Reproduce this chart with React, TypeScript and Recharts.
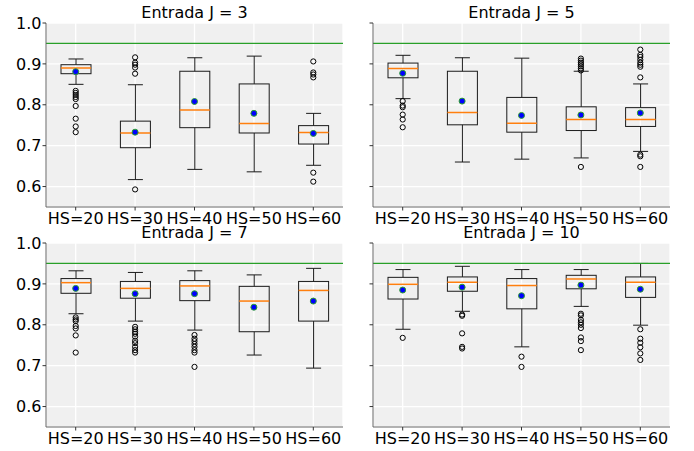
import React from "react";
import {
  ComposedChart,
  Bar,
  Scatter,
  XAxis,
  YAxis,
  CartesianGrid,
  ReferenceLine,
} from "recharts";

const categories = ["HS=20", "HS=30", "HS=40", "HS=50", "HS=60"];
const yTicks = [0.6, 0.7, 0.8, 0.9, 1.0];
const target = 0.95;

// Entrada J = 3
const j3Low = [0.85, 0.617, 0.642, 0.636, 0.652];
const j3Q1 = [0.876, 0.695, 0.744, 0.731, 0.704];
const j3Median = [0.89, 0.731, 0.787, 0.754, 0.732];
const j3Q3 = [0.898, 0.76, 0.882, 0.851, 0.749];
const j3High = [0.912, 0.849, 0.915, 0.919, 0.779];
const j3Mean = [0.881, 0.733, 0.808, 0.779, 0.73];
const j3Outliers = [
  [0.834, 0.829, 0.824, 0.819, 0.814, 0.797, 0.766, 0.747, 0.733],
  [0.916, 0.903, 0.898, 0.891, 0.876, 0.593],
  [],
  [],
  [0.906, 0.879, 0.874, 0.867, 0.634, 0.612],
];

// Entrada J = 5
const j5Low = [0.815, 0.66, 0.667, 0.67, 0.686];
const j5Q1 = [0.866, 0.751, 0.733, 0.737, 0.747];
const j5Median = [0.889, 0.781, 0.755, 0.764, 0.764];
const j5Q3 = [0.902, 0.882, 0.818, 0.795, 0.793];
const j5High = [0.921, 0.915, 0.914, 0.882, 0.851];
const j5Mean = [0.877, 0.809, 0.774, 0.775, 0.78];
const j5Outliers = [
  [0.809, 0.798, 0.794, 0.776, 0.764, 0.745],
  [],
  [],
  [0.913, 0.908, 0.903, 0.899, 0.894, 0.889, 0.884, 0.648],
  [0.935, 0.922, 0.917, 0.91, 0.903, 0.898, 0.893, 0.867, 0.678, 0.674, 0.648],
];

// Entrada J = 7
const j7Low = [0.827, 0.809, 0.787, 0.726, 0.694];
const j7Q1 = [0.877, 0.865, 0.859, 0.783, 0.809];
const j7Median = [0.903, 0.889, 0.895, 0.858, 0.884];
const j7Q3 = [0.913, 0.906, 0.908, 0.894, 0.906];
const j7High = [0.932, 0.928, 0.932, 0.922, 0.938];
const j7Mean = [0.889, 0.876, 0.876, 0.843, 0.858];
const j7Outliers = [
  [0.818, 0.813, 0.809, 0.797, 0.791, 0.774, 0.732],
  [0.795, 0.789, 0.783, 0.778, 0.771, 0.761, 0.755, 0.746, 0.738, 0.732],
  [0.775, 0.766, 0.76, 0.753, 0.746, 0.738, 0.732, 0.697],
  [],
  [],
];

// Entrada J = 10
const j10Low = [0.789, 0.833, 0.746, 0.845, 0.799];
const j10Q1 = [0.863, 0.882, 0.839, 0.888, 0.867];
const j10Median = [0.899, 0.904, 0.896, 0.912, 0.904];
const j10Q3 = [0.916, 0.917, 0.913, 0.921, 0.917];
const j10High = [0.935, 0.943, 0.935, 0.935, 0.95];
const j10Mean = [0.885, 0.892, 0.871, 0.897, 0.887];
const j10Outliers = [
  [0.768],
  [0.825, 0.822, 0.779, 0.746, 0.742],
  [0.722, 0.697],
  [0.827, 0.823, 0.812, 0.806, 0.8, 0.792, 0.769, 0.76, 0.738],
  [0.789, 0.766, 0.756, 0.745, 0.73, 0.714],
];

const FONT = "DejaVu Sans";
const FRAME = "#666";

function buildRows(low, q1, med, q3, high, mean) {
  return categories.map((name, i) => ({
    name,
    range: [low[i], high[i]],
    lo: low[i],
    q1: q1[i],
    med: med[i],
    q3: q3[i],
    hi: high[i],
    mean: mean[i],
  }));
}

function buildOutliers(outliers) {
  return categories.flatMap((name, i) => outliers[i].map((v) => ({ name, v })));
}

// whiskers, box and median, placed inside the [low, high] bar that recharts lays out
function BoxShape(props: any) {
  const { x, y, width, height, payload } = props;
  const { lo, hi, q1, q3, med } = payload;
  const py = (v: number) => y + (height * (hi - v)) / (hi - lo);
  const cx = x + width / 2;
  const cap = width / 4;
  const stroke = "#1a1a1a";
  return (
    <g>
      <line x1={cx} x2={cx} y1={py(hi)} y2={py(q3)} stroke={stroke} strokeWidth={1} />
      <line x1={cx} x2={cx} y1={py(q1)} y2={py(lo)} stroke={stroke} strokeWidth={1} />
      <line x1={cx - cap} x2={cx + cap} y1={py(hi)} y2={py(hi)} stroke={stroke} strokeWidth={1} />
      <line x1={cx - cap} x2={cx + cap} y1={py(lo)} y2={py(lo)} stroke={stroke} strokeWidth={1} />
      <rect x={x} y={py(q3)} width={width} height={py(q1) - py(q3)} fill="none" stroke={stroke} strokeWidth={1} />
      <line x1={x} x2={x + width} y1={py(med)} y2={py(med)} stroke="#ff7f0e" strokeWidth={1.5} />
    </g>
  );
}

const MeanDot = (p: any) => (
  <circle cx={p.cx} cy={p.cy} r={3} fill="#0000ff" stroke="#2ca02c" strokeWidth={1} />
);

const FlierDot = (p: any) => (
  <circle cx={p.cx} cy={p.cy} r={2.6} fill="none" stroke="#000" strokeWidth={1} />
);

const tickStyle = { fontSize: 16, fill: "#000", fontFamily: FONT };

function Panel({ title, rows, fliers, left, top, height, showY, marginTop }) {
  const width = 347;
  const yWidth = showY ? 46 : 26;
  const margin = { top: marginTop, right: showY ? 4 : 24, bottom: 0, left: 0 };
  const xHeight = height - marginTop - 184;
  return (
    <div style={{ position: "absolute", left, top, width, height }}>
      <ComposedChart width={width} height={height} data={rows} margin={margin}>
        <CartesianGrid stroke="#ffffff" strokeWidth={1.3} fill="#f0f0f0" fillOpacity={1} />
        <XAxis
          dataKey="name"
          type="category"
          allowDuplicatedCategory={false}
          height={xHeight}
          tick={tickStyle}
          tickSize={3.5}
          tickMargin={2}
          interval={0}
          axisLine={{ stroke: FRAME }}
          tickLine={{ stroke: "#333" }}
        />
        <XAxis
          xAxisId="top"
          dataKey="name"
          orientation="top"
          allowDuplicatedCategory={false}
          height={0}
          tick={false}
          tickLine={false}
          axisLine={{ stroke: FRAME }}
        />
        <YAxis
          domain={[0.55, 1.0]}
          ticks={yTicks}
          width={yWidth}
          tick={tickStyle}
          tickSize={3.5}
          tickMargin={1}
          tickFormatter={(v) => (showY ? Number(v).toFixed(1) : "")}
          axisLine={{ stroke: FRAME }}
          tickLine={{ stroke: "#333" }}
          allowDataOverflow
        />
        <YAxis
          yAxisId="right"
          orientation="right"
          width={0}
          tick={false}
          tickLine={false}
          axisLine={{ stroke: FRAME }}
        />
        <ReferenceLine y={target} stroke="#28a028" strokeWidth={1.2} />
        <Bar dataKey="range" barSize={30} shape={BoxShape} isAnimationActive={false} />
        <Scatter data={fliers} dataKey="v" shape={FlierDot} isAnimationActive={false} />
        <Scatter dataKey="mean" shape={MeanDot} isAnimationActive={false} />
      </ComposedChart>
      <div
        style={{
          position: "absolute",
          left: yWidth,
          width: width - yWidth - margin.right,
          top: marginTop - 18.3,
          textAlign: "center",
          fontFamily: FONT,
          fontSize: 16,
          lineHeight: "16px",
          color: "#000",
          whiteSpace: "nowrap",
        }}
      >
        {title}
      </div>
    </div>
  );
}

export default function App() {
  return (
    <div style={{ position: "absolute", left: 0, top: 0, width: 694, height: 451, background: "#fff" }}>
      <Panel
        title="Entrada J = 3"
        rows={buildRows(j3Low, j3Q1, j3Median, j3Q3, j3High, j3Mean)}
        fliers={buildOutliers(j3Outliers)}
        left={0}
        top={0}
        height={230}
        showY
        marginTop={23}
      />
      <Panel
        title="Entrada J = 5"
        rows={buildRows(j5Low, j5Q1, j5Median, j5Q3, j5High, j5Mean)}
        fliers={buildOutliers(j5Outliers)}
        left={347}
        top={0}
        height={230}
        showY={false}
        marginTop={23}
      />
      <Panel
        title="Entrada J = 7"
        rows={buildRows(j7Low, j7Q1, j7Median, j7Q3, j7High, j7Mean)}
        fliers={buildOutliers(j7Outliers)}
        left={0}
        top={230}
        height={221}
        showY
        marginTop={13}
      />
      <Panel
        title="Entrada J = 10"
        rows={buildRows(j10Low, j10Q1, j10Median, j10Q3, j10High, j10Mean)}
        fliers={buildOutliers(j10Outliers)}
        left={347}
        top={230}
        height={221}
        showY={false}
        marginTop={13}
      />
    </div>
  );
}
